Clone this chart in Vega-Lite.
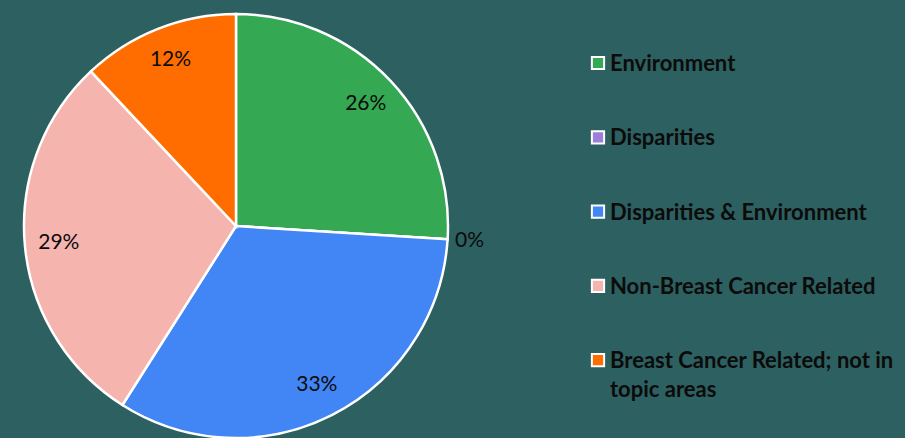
{
  "$schema": "https://vega.github.io/schema/vega-lite/v6.json",
  "width": 472,
  "height": 424,
  "autosize": {"type": "none"},
  "padding": {"top": 14, "left": 0, "right": 433, "bottom": 0},
  "background": "#2D6060",
  "config": {
    "view": {"stroke": null},
    "font": "Lato"
  },
  "data": {
    "values": [
      {"category": "Environment", "share": 0.26, "rank": 1},
      {"category": "Disparities", "share": 0.0, "rank": 2},
      {"category": "Disparities & Environment", "share": 0.33, "rank": 3},
      {"category": "Non-Breast Cancer Related", "share": 0.29, "rank": 4},
      {"category": "Breast Cancer Related; not in topic areas", "share": 0.12, "rank": 5}
    ]
  },
  "encoding": {
    "theta": {"field": "share", "type": "quantitative", "stack": true},
    "order": {"field": "rank", "type": "quantitative"}
  },
  "layer": [
    {
      "mark": {"type": "arc", "stroke": "white", "strokeWidth": 2.5},
      "encoding": {
        "color": {
          "field": "category",
          "type": "nominal",
          "sort": null,
          "scale": {
            "domain": ["Environment", "Disparities", "Disparities & Environment", "Non-Breast Cancer Related", "Breast Cancer Related; not in topic areas"],
            "range": ["#34A853", "#9B7FD9", "#4285F4", "#F5B5AE", "#FF6D01"]
          },
          "legend": {
            "title": null,
            "orient": "none",
            "legendX": 587,
            "legendY": 38,
            "symbolType": "square",
            "symbolSize": 150,
            "symbolStrokeColor": "white",
            "symbolStrokeWidth": 2,
            "symbolOpacity": 1,
            "labelFont": "Lato",
            "labelFontWeight": "bold",
            "labelFontSize": 22,
            "labelColor": "#0b0b0b",
            "labelBaseline": "alphabetic",
            "labelLimit": 400,
            "labelOffset": 1,
            "rowPadding": 51.3,
            "labelExpr": "datum.label == 'Breast Cancer Related; not in topic areas' ? ['Breast Cancer Related; not in', 'topic areas'] : datum.label",
            "encode": {"labels": {"update": {"dy": {"value": 8}, "lineHeight": {"value": 29}}}}
          }
        }
      }
    },
    {
      "mark": {"type": "text", "radius": 178, "fontSize": 21, "color": "#0b0b0b", "font": "Lato"},
      "encoding": {
        "text": {"condition": {"test": "datum.share > 0", "field": "share", "type": "quantitative", "format": ".0%"}, "value": ""}
      }
    },
    {
      "mark": {"type": "text", "radius": 234, "fontSize": 21, "color": "#0b0b0b", "font": "Lato"},
      "encoding": {
        "text": {"condition": {"test": "datum.share == 0", "field": "share", "type": "quantitative", "format": ".0%"}, "value": ""}
      }
    }
  ]
}
